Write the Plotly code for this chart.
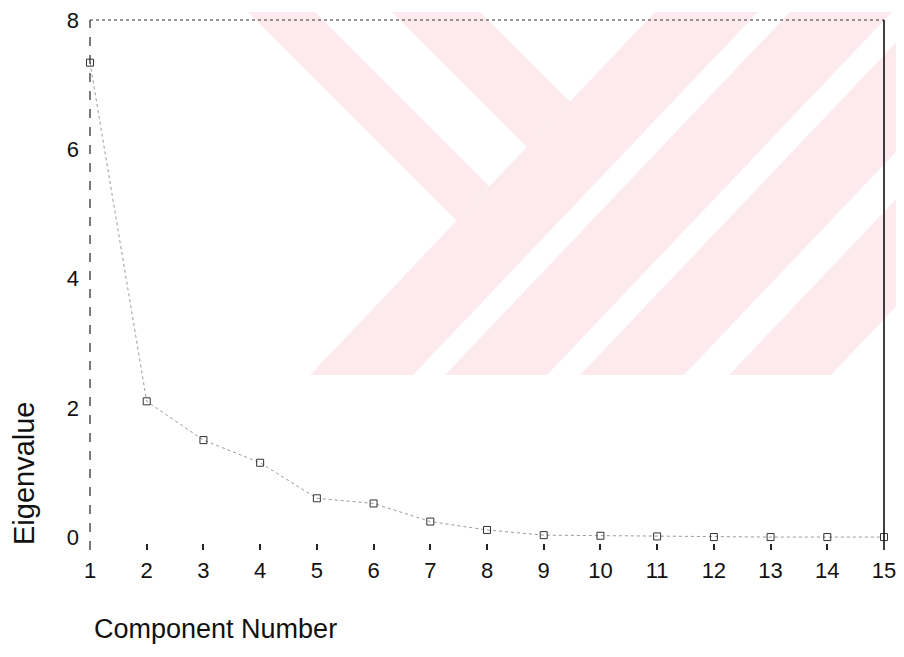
import plotly.graph_objects as go

# ---- data ----
components = list(range(1, 16))
eigenvalues = [7.34, 2.10, 1.50, 1.15, 0.60, 0.52, 0.24, 0.11,
               0.03, 0.02, 0.01, 0.0, 0.0, 0.0, 0.0]
x_ticks = list(range(1, 16))
y_ticks = [0, 2, 4, 6, 8]

# ---- layout geometry ----
# The page body has an 8px margin, so the figure is drawn 8px in from the
# window's top-left corner; positions below are given in window pixels.
OFF = 8
WIN_W, WIN_H = 904, 657
W, H = WIN_W - 2 * OFF, WIN_H - 2 * OFF   # fits the window without scrolling
L, R, T, B = 90, 884, 20, 550              # plot area in window pixels


def px(x):
    return (x - L) / (R - L)


def py(y):
    return (B - y) / (B - T)


def poly(points):
    d = "M " + " L ".join(f"{px(a):.5f},{py(b):.5f}" for a, b in points) + " Z"
    return dict(type="path", path=d, xref="paper", yref="paper",
                fillcolor="#fdeaee", line=dict(width=0), layer="below")


# watermark (pale pink stripes / Y shape behind the plot), window pixels
wm = [
    [(248, 12), (315, 12), (489, 186), (457, 221)],
    [(392, 12), (480, 12), (570, 102), (527, 147)],
    [(310, 375), (413, 375), (758, 12), (655, 12)],
    [(445, 375), (547, 375), (892, 12), (790, 12)],
    [(580, 375), (684, 375), (1029, 12), (925, 12)],
    [(729, 375), (831, 375), (1176, 12), (1074, 12)],
]
shapes = [poly(p) for p in wm]

# plot frame (scanned look: dashed left, dotted top, solid right)
shapes += [
    dict(type="line", xref="paper", yref="paper", x0=0, x1=0, y0=0, y1=1,
         line=dict(color="#222", width=1.2, dash="dash")),
    dict(type="line", xref="paper", yref="paper", x0=0, x1=1, y0=1, y1=1,
         line=dict(color="#333", width=1, dash="dot")),
    dict(type="line", xref="paper", yref="paper", x0=1, x1=1, y0=0, y1=1,
         line=dict(color="#111", width=1.6)),
]

fig = go.Figure()
fig.add_trace(go.Scatter(
    x=components, y=eigenvalues, mode="lines+markers",
    line=dict(color="#9a9a9a", width=1, dash="dot"),
    marker=dict(symbol="square-open", size=7, color="#333",
                line=dict(width=1, color="#333")),
    showlegend=False, cliponaxis=False,
))

font_family = "Arial, Liberation Sans, sans-serif"

fig.update_layout(
    width=W, height=H,
    margin=dict(l=L - OFF, r=(W + OFF) - R, t=T - OFF, b=(H + OFF) - B,
                autoexpand=False),
    paper_bgcolor="white", plot_bgcolor="rgba(0,0,0,0)",
    font=dict(family=font_family, color="#111", size=22),
    shapes=shapes,
    xaxis=dict(range=[1, 15], tickvals=x_ticks, ticktext=[str(v) for v in x_ticks],
               showgrid=False, zeroline=False, showline=False, automargin=False,
               ticks="inside", ticklen=6, tickwidth=1.5, tickcolor="#222",
               ticklabelstandoff=5, ticklabeloverflow="allow",
               tickfont=dict(size=22)),
    yaxis=dict(range=[-0.2, 8], tickvals=y_ticks, ticktext=[str(v) for v in y_ticks],
               showgrid=False, zeroline=False, showline=False, automargin=False,
               ticks="", ticklabelstandoff=10, ticklabeloverflow="allow",
               tickfont=dict(size=22)),
    annotations=[
        dict(text="Eigenvalue", xref="paper", yref="paper",
             x=px(24), y=py(473), xanchor="center", yanchor="middle",
             textangle=-90, showarrow=False,
             font=dict(size=29, family=font_family, color="#111")),
        dict(text="Component Number", xref="paper", yref="paper",
             x=px(92), y=py(629), xanchor="left", yanchor="middle",
             showarrow=False,
             font=dict(size=27, family=font_family, color="#111")),
    ],
)

fig.write_html("out.html")
